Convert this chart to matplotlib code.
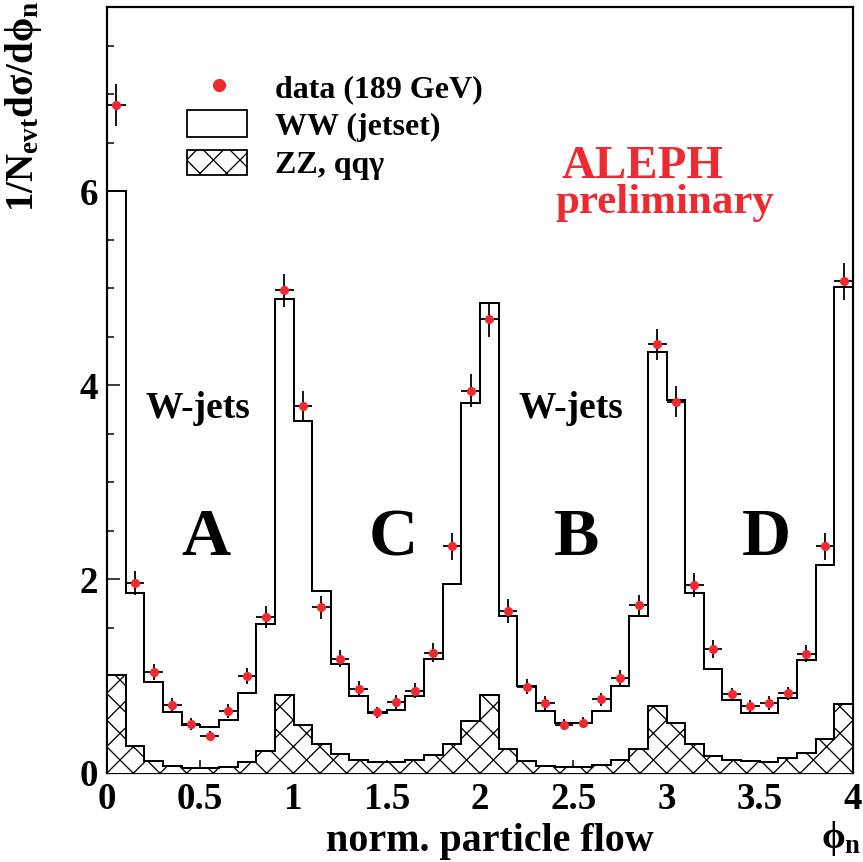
import numpy as np
import matplotlib
matplotlib.use("Agg")
import matplotlib.pyplot as plt
from matplotlib.ticker import MultipleLocator, FuncFormatter
from matplotlib.patches import Rectangle
from matplotlib.lines import Line2D

# ---------------- data ----------------
bin_edges = [round(0.1 * i, 1) for i in range(41)]
ww_jetset = [6.00, 1.86, 0.94, 0.63, 0.50, 0.47, 0.55, 0.82, 1.54, 4.89,
             3.63, 1.88, 1.12, 0.79, 0.62, 0.65, 0.79, 1.18, 1.95, 3.82,
             4.85, 1.62, 0.90, 0.64, 0.52, 0.52, 0.64, 0.90, 1.62, 4.34,
             3.85, 1.86, 1.07, 0.75, 0.615, 0.615, 0.77, 1.17, 2.15, 5.01]
zz_qqg = [1.01, 0.28, 0.12, 0.07, 0.05, 0.05, 0.065, 0.11, 0.23, 0.80,
          0.50, 0.30, 0.20, 0.13, 0.11, 0.11, 0.13, 0.19, 0.30, 0.54,
          0.80, 0.25, 0.12, 0.075, 0.06, 0.06, 0.08, 0.13, 0.25, 0.69,
          0.52, 0.30, 0.175, 0.13, 0.12, 0.11, 0.15, 0.21, 0.35, 0.71]
data_189 = [6.89, 1.96, 1.04, 0.70, 0.505, 0.38, 0.64, 1.00, 1.61, 4.98,
            3.78, 1.71, 1.18, 0.87, 0.625, 0.735, 0.85, 1.24, 2.34, 3.94,
            4.68, 1.67, 0.89, 0.72, 0.50, 0.52, 0.76, 0.98, 1.73, 4.42,
            3.83, 1.94, 1.28, 0.81, 0.69, 0.72, 0.82, 1.23, 2.34, 5.07]
data_err = [0.22, 0.12, 0.08, 0.07, 0.06, 0.05, 0.07, 0.08, 0.11, 0.17,
            0.16, 0.12, 0.09, 0.08, 0.06, 0.07, 0.08, 0.10, 0.14, 0.17,
            0.18, 0.12, 0.08, 0.07, 0.06, 0.06, 0.07, 0.08, 0.11, 0.16,
            0.16, 0.12, 0.09, 0.07, 0.06, 0.07, 0.07, 0.09, 0.14, 0.19]
region_labels = ["A", "C", "B", "D"]
legend_labels = ["data (189 GeV)", "WW (jetset)", "ZZ, qq\u03b3"]

# ---------------- style ----------------
DPI = 80
W, H = 863, 862
def pt(px):
    return px * 72.0 / DPI

plt.rcParams['font.family'] = ['Liberation Serif', 'DejaVu Serif']
plt.rcParams['font.weight'] = 'bold'
plt.rcParams['mathtext.fontset'] = 'custom'
plt.rcParams['mathtext.rm'] = 'Liberation Serif:bold'
plt.rcParams['mathtext.it'] = 'Liberation Serif:bold'
plt.rcParams['mathtext.bf'] = 'Liberation Serif:bold'
plt.rcParams['hatch.linewidth'] = pt(1.3)
plt.rcParams['hatch.color'] = 'black'

RED = '#ee2a30'

fig = plt.figure(figsize=(W / DPI, H / DPI), dpi=DPI)
L, R, T, B = 107, 853, 7, 773
ax = fig.add_axes([L / W, (H - B) / H, (R - L) / W, (B - T) / H])

def pax(x, y):
    """pixel -> axes fraction"""
    return (x - L) / (R - L), (B - y) / (B - T)

def pfig(x, y):
    return x / W, (H - y) / H

edges = np.array(bin_edges)
centers = 0.5 * (edges[:-1] + edges[1:])
half_w = 0.5 * np.diff(edges)

ax.stairs(ww_jetset, edges, color='black', lw=pt(2.0), baseline=0, zorder=2)
ax.stairs(zz_qqg, edges, fill=True, facecolor='white', edgecolor='black',
          hatch='x', lw=pt(2.0), zorder=3)
ax.stairs(zz_qqg, edges, color='black', lw=pt(2.0), baseline=0, zorder=3.5)
ax.errorbar(centers, data_189, yerr=data_err, xerr=half_w, fmt='o',
            color='black', ecolor='black', elinewidth=pt(1.8), capsize=0,
            markersize=pt(8), markerfacecolor=RED, markeredgecolor=RED,
            zorder=5)

ax.set_xlim(0, 4)
ax.set_ylim(0, 7.9)
ax.xaxis.set_major_locator(MultipleLocator(0.5))
ax.xaxis.set_minor_locator(MultipleLocator(0.1))
ax.yaxis.set_major_locator(MultipleLocator(2))
ax.yaxis.set_minor_locator(MultipleLocator(0.5))
ax.xaxis.set_major_formatter(FuncFormatter(lambda v, p: '%g' % v))
ax.yaxis.set_major_formatter(FuncFormatter(lambda v, p: '%g' % v))
ax.tick_params(which='both', direction='in', top=False, right=False,
               width=pt(1.5), labelsize=pt(37))
ax.tick_params(which='major', length=pt(13), pad=pt(9))
ax.tick_params(which='minor', length=pt(7))
for lab in ax.get_xticklabels() + ax.get_yticklabels():
    lab.set_fontweight('bold')
for s in ax.spines.values():
    s.set_linewidth(pt(2.2))

# ---------------- legend (manual) ----------------
x0, y0 = pax(219, 85)
ax.add_line(Line2D([x0], [y0], marker='o', markersize=pt(12),
                   markerfacecolor=RED, markeredgecolor=RED,
                   transform=ax.transAxes, zorder=6))
bx0, by0 = pax(187, 137)
bx1, by1 = pax(247, 110)
ax.add_patch(Rectangle((bx0, by0), bx1 - bx0, by1 - by0, transform=ax.transAxes,
                       facecolor='white', edgecolor='black', lw=pt(1.8), zorder=6))
bx0, by0 = pax(187, 175)
bx1, by1 = pax(247, 150)
ax.add_patch(Rectangle((bx0, by0), bx1 - bx0, by1 - by0, transform=ax.transAxes,
                       facecolor='white', edgecolor='black', hatch='x',
                       lw=pt(1.8), zorder=6))
for lbl, yb in zip(legend_labels, [97, 135, 173]):
    tx, ty = pax(275, yb)
    ax.text(tx, ty, lbl, transform=ax.transAxes, fontsize=pt(32),
            fontweight='bold', ha='left', va='baseline', zorder=6)

# ---------------- annotations ----------------
for cx in [198, 571]:
    tx, ty = pax(cx, 418)
    ax.text(tx, ty, 'W-jets', transform=ax.transAxes, fontsize=pt(37.5),
            fontweight='bold', ha='center', va='baseline')
for lbl, cx in zip(region_labels, [206, 393, 577, 766]):
    tx, ty = pax(cx, 555)
    ax.text(tx, ty, lbl, transform=ax.transAxes, fontsize=pt(68),
            fontweight='bold', ha='center', va='baseline')
tx, ty = pax(562, 178)
ax.text(tx, ty, 'ALEPH', transform=ax.transAxes, fontsize=pt(47),
        fontweight='bold', color=RED, ha='left', va='baseline')
tx, ty = pax(555, 213)
ax.text(tx, ty, 'preliminary', transform=ax.transAxes, fontsize=pt(43),
        fontweight='bold', color=RED, ha='left', va='baseline')

# ---------------- axis labels ----------------
fx, fy = pfig(326, 851)
fig.text(fx, fy, 'norm. particle flow', fontsize=pt(40), fontweight='bold',
         ha='left', va='baseline')
fx, fy = pfig(861, 848)
fig.text(fx, fy, r'$\phi_{\mathrm{n}}$', fontsize=pt(38), fontweight='bold',
         ha='right', va='baseline')
fx, fy = pfig(24, 1)
fig.text(fx, fy, r'1/N$_{\mathrm{evt}}$d$\sigma$/d$\phi_{\mathrm{n}}$',
         fontsize=pt(39), fontweight='bold', rotation=90, ha='center', va='top')

fig.savefig('out.png', dpi=DPI)
